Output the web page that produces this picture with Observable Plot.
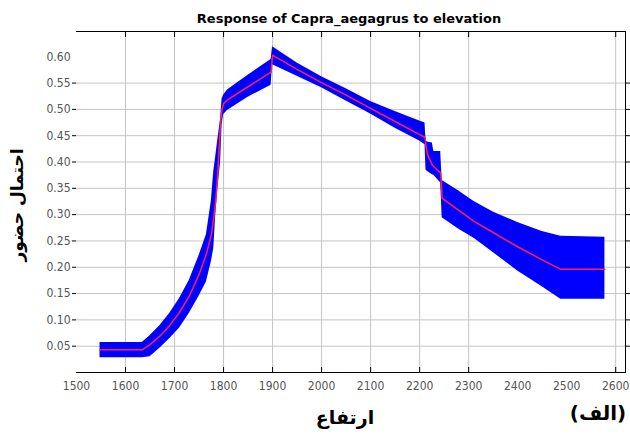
<!DOCTYPE html>
<html><head><meta charset="utf-8">
<script src="https://cdn.jsdelivr.net/npm/d3@7"></script>
<script src="https://cdn.jsdelivr.net/npm/@observablehq/plot@0.6"></script>
<style>body{margin:0;background:#fff;}</style>
</head><body><div id="chart"></div>
<script>
const elevation = [1548,1634,1650,1670,1690,1710,1730,1750,1765,1775,1780,1784,1788,1794,1797,1800,1808,1850,1897,1900,1950,2000,2050,2100,2150,2200,2211,2213,2216,2226,2229,2243,2246,2280,2311,2350,2400,2450,2488,2578];
const meanProb  = [0.043,0.043,0.053,0.069,0.089,0.114,0.145,0.186,0.225,0.262,0.294,0.325,0.375,0.477,0.500,0.511,0.518,0.543,0.571,0.603,0.576,0.551,0.527,0.502,0.477,0.452,0.447,0.430,0.414,0.394,0.391,0.379,0.331,0.308,0.287,0.266,0.239,0.214,0.196,0.196];
const lowerProb = [0.028,0.028,0.030,0.046,0.064,0.084,0.112,0.145,0.172,0.210,0.235,0.298,0.345,0.400,0.470,0.490,0.498,0.523,0.546,0.585,0.563,0.541,0.516,0.491,0.464,0.440,0.433,0.385,0.382,0.376,0.375,0.360,0.294,0.272,0.255,0.228,0.193,0.163,0.139,0.139];
const upperProb = [0.057,0.057,0.070,0.089,0.112,0.140,0.175,0.222,0.262,0.325,0.382,0.410,0.440,0.482,0.520,0.527,0.537,0.565,0.595,0.619,0.588,0.562,0.539,0.515,0.496,0.478,0.474,0.440,0.438,0.436,0.420,0.420,0.365,0.345,0.325,0.305,0.285,0.268,0.259,0.257];
const xTicks = [1500,1600,1700,1800,1900,2000,2100,2200,2300,2400,2500,2600];
const xGrid = [1600,1700,1800,1900,2000,2100,2200,2300,2600];
const yTicks = [0.05,0.10,0.15,0.20,0.25,0.30,0.35,0.40,0.45,0.50,0.55];
const yTopLabel = [0.60];
const titleText = "Response of Capra_aegagrus to elevation";
const yLabel = "احتمال حضور";
const xLabel = "ارتفاع";
const panelLabel = "(الف)";

const rows = elevation.map((e,i)=>({elevation:e, mean:meanProb[i], lower:lowerProb[i], upper:upperProb[i]}));
const noText = () => "";

const svg = Plot.plot({
  width:630, height:435, marginLeft:76, marginRight:5, marginTop:31, marginBottom:63,
  style:{fontFamily:"'Liberation Sans Narrow', 'DejaVu Sans Condensed', 'Liberation Sans', Arial, sans-serif", fontSize:"12px", background:"#fff", color:"#000"},
  x:{domain:[1500,2620]},
  y:{domain:[0,0.648]},
  marks:[
    Plot.gridX(xGrid,{stroke:"#c4c4c4", strokeOpacity:1}),
    Plot.gridY(yTicks,{stroke:"#c4c4c4", strokeOpacity:1}),
    Plot.areaY(rows,{x:"elevation", y1:"lower", y2:"upper", fill:"#0000ff", curve:"linear"}),
    Plot.line(rows,{x:"elevation", y:"mean", stroke:"#ff2050", strokeWidth:1.5}),
    Plot.frame({anchor:"bottom"}),
    Plot.frame({anchor:"top"}),
    Plot.frame({anchor:"right"}),
    Plot.axisX(xTicks,{tickSize:0, tickPadding:9, tickFormat:d3.format("d"), fill:"#555", label:null}),
    Plot.axisX(xGrid,{anchor:"bottom", tickSize:-5, tickFormat:noText, label:null}),
    Plot.axisX(xGrid,{anchor:"top", tickSize:-5, tickFormat:noText, label:null}),
    Plot.axisY(yTicks,{tickSize:4, tickPadding:2, tickFormat:d3.format(".2f"), fill:"#555", label:null}),
    Plot.axisY(yTopLabel,{tickSize:0, tickPadding:6, tickFormat:d3.format(".2f"), fill:"#555", label:null}),
    Plot.axisY(yTicks,{anchor:"right", tickSize:5, tickFormat:noText, label:null})
  ]
});
document.getElementById("chart").appendChild(svg);

const s = d3.select(svg);
s.append("text").attr("x",349).attr("y",19).attr("text-anchor","middle").attr("dominant-baseline","middle")
  .attr("font-family","'DejaVu Sans', sans-serif").attr("font-weight","bold").attr("font-size",13).text(titleText);
s.append("text").attr("transform","translate(18,205) rotate(-90)").attr("text-anchor","middle").attr("dominant-baseline","middle")
  .attr("font-family","'DejaVu Sans', sans-serif").attr("font-weight","bold").attr("font-size",17).attr("direction","rtl").text(yLabel);
s.append("text").attr("x",345).attr("y",418).attr("text-anchor","middle").attr("dominant-baseline","middle")
  .attr("font-family","'DejaVu Sans', sans-serif").attr("font-weight","bold").attr("font-size",19).attr("direction","rtl").text(xLabel);
s.append("text").attr("x",598).attr("y",414).attr("text-anchor","middle").attr("dominant-baseline","middle")
  .attr("font-family","'DejaVu Sans', sans-serif").attr("font-weight","bold").attr("font-size",20).attr("direction","rtl").text(panelLabel);
</script>
</body></html>
